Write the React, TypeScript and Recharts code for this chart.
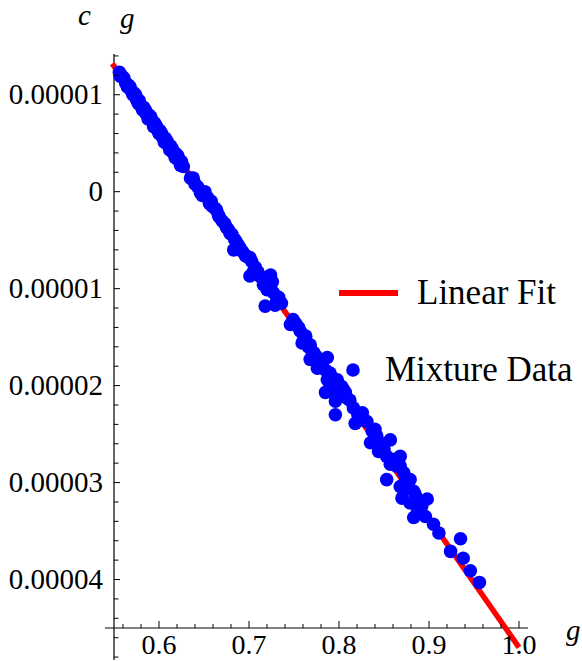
import React from "react";
import { ScatterChart, Scatter, XAxis, YAxis, ReferenceLine, Legend } from "recharts";

// mixture data: g values and c values (c in units of 1e-5)
const gValues = [
    0.556, 0.558, 0.561, 0.563, 0.566, 0.569, 0.572, 0.575, 0.578, 0.580, 0.583, 0.586, 0.589,
    0.592, 0.595, 0.598, 0.601, 0.604, 0.607, 0.610, 0.613, 0.616, 0.619, 0.622, 0.625, 0.627,
    0.557, 0.560, 0.565, 0.568, 0.571, 0.574, 0.577, 0.582, 0.585, 0.588, 0.591, 0.594, 0.597,
    0.600, 0.603, 0.606, 0.609, 0.612, 0.615, 0.618, 0.621, 0.624,
    0.635, 0.638, 0.646, 0.651, 0.658, 0.659, 0.664, 0.666, 0.667, 0.677, 0.681, 0.686, 0.688,
    0.683, 0.698, 0.701, 0.703, 0.705, 0.701, 0.721, 0.724, 0.716, 0.726, 0.720, 0.727, 0.733,
    0.718, 0.729, 0.749, 0.746, 0.757, 0.763, 0.759, 0.766, 0.768, 0.770, 0.768, 0.787, 0.779,
    0.776, 0.785, 0.790, 0.798, 0.787, 0.790, 0.785, 0.803, 0.805, 0.807, 0.798, 0.796,
    0.809, 0.796, 0.816, 0.826, 0.818, 0.831, 0.840, 0.835, 0.842, 0.857, 0.844, 0.853, 0.861,
    0.868, 0.857, 0.868, 0.872, 0.853, 0.874, 0.879, 0.868, 0.876, 0.883, 0.870, 0.879, 0.898,
    0.888, 0.887, 0.890, 0.883, 0.896, 0.905, 0.911, 0.935, 0.924, 0.938, 0.946, 0.956,
    0.640, 0.643, 0.648, 0.654, 0.656, 0.662, 0.670, 0.673, 0.675, 0.679, 0.684, 0.690, 0.693,
    0.696, 0.707, 0.710, 0.713, 0.722, 0.731, 0.736, 0.752, 0.755, 0.761, 0.772, 0.775, 0.781,
    0.793, 0.800, 0.812, 0.821, 0.828, 0.837, 0.848, 0.850, 0.864, 0.877, 0.885, 0.892
];
const cValues = [
    1.23, 1.20, 1.17, 1.12, 1.10, 1.04, 1.02, 0.95, 0.94, 0.88, 0.87, 0.80, 0.79,
    0.73, 0.71, 0.64, 0.63, 0.56, 0.55, 0.48, 0.47, 0.40, 0.39, 0.32, 0.31, 0.26,
    1.19, 1.18, 1.08, 1.08, 1.00, 1.00, 0.91, 0.84, 0.84, 0.75, 0.77, 0.67, 0.68,
    0.60, 0.60, 0.51, 0.52, 0.43, 0.44, 0.35, 0.37, 0.27,
    0.14, 0.14, -0.01, 0.00, -0.10, -0.15, -0.19, -0.24, -0.26, -0.39, -0.44, -0.52, -0.55,
    -0.60, -0.67, -0.68, -0.72, -0.82, -0.87, -0.88, -0.86, -0.96, -0.93, -1.01, -1.04, -1.09,
    -1.18, -1.17, -1.32, -1.37, -1.44, -1.49, -1.56, -1.60, -1.58, -1.70, -1.73, -1.71, -1.80,
    -1.82, -1.84, -1.87, -1.94, -1.94, -2.01, -2.07, -2.01, -2.04, -2.07, -2.11, -2.16,
    -2.13, -2.30, -2.23, -2.28, -2.39, -2.37, -2.45, -2.59, -2.52, -2.56, -2.68, -2.73, -2.76,
    -2.73, -2.81, -2.83, -2.90, -2.97, -2.97, -2.97, -3.04, -3.06, -3.09, -3.16, -3.21, -3.17,
    -3.18, -3.31, -3.30, -3.36, -3.35, -3.43, -3.52, -3.58, -3.71, -3.78, -3.91, -4.03,
    0.08, 0.05, -0.04, -0.06, -0.12, -0.17, -0.30, -0.33, -0.37, -0.43, -0.49, -0.58, -0.62,
    -0.66, -0.78, -0.83, -0.88, -0.98, -1.12, -1.15, -1.36, -1.40, -1.52, -1.66, -1.70, -1.76,
    -1.92, -2.00, -2.15, -2.30, -2.36, -2.47, -2.60, -2.66, -2.83, -3.01, -3.13, -3.24
];

// linear fit end points
const fitG = [0.548, 1.0];
const fitC = [1.32, -4.70];

const xMajorTicks = [0.6, 0.7, 0.8, 0.9, 1.0];
const xTickLabels = ["0.6", "0.7", "0.8", "0.9", "1.0"];
const xMinorTicks = [0.56, 0.58, 0.62, 0.64, 0.66, 0.68, 0.72, 0.74, 0.76, 0.78, 0.82, 0.84, 0.86, 0.88, 0.92, 0.94, 0.96, 0.98];

const yMajorTicks = [1, 0, -1, -2, -3, -4];
const yTickLabels = ["0.00001", "0", "0.00001", "0.00002", "0.00003", "0.00004"];
const yMinorTicks = [1.4, 1.2, 0.8, 0.6, 0.4, 0.2, -0.2, -0.4, -0.6, -0.8, -1.2, -1.4, -1.6, -1.8,
    -2.2, -2.4, -2.6, -2.8, -3.2, -3.4, -3.6, -3.8, -4.2, -4.4, -4.6, -4.8];

const mixture = gValues.map((g, i) => ({ g, c: cValues[i] }));
const fit = fitG.map((g, i) => ({ g, c: fitC[i] }));

const FONT = '"Liberation Serif", "Times New Roman", serif';
const X_AXIS_LIFT = 32; // x axis line sits above the plot bottom
const Y_AXIS_SHIFT = 9; // y axis line sits right of the plot left edge

const majorIndex = (list: number[], v: number) => list.findIndex(t => Math.abs(t - v) < 1e-6);

const XTick = ({ x, y, payload }: any) => {
    const i = majorIndex(xMajorTicks, payload.value);
    const ay = y - X_AXIS_LIFT;
    return (
        <g>
            <line x1={x} x2={x} y1={ay} y2={ay - (i >= 0 ? 7 : 4)} stroke="#000" strokeWidth={1} />
            {i >= 0 && (
                <text x={x} y={ay + 26} textAnchor="middle" fontFamily={FONT} fontSize={28} fill="#000">
                    {xTickLabels[i]}
                </text>
            )}
        </g>
    );
};

const YTick = ({ x, y, payload }: any) => {
    const i = majorIndex(yMajorTicks, payload.value);
    const ax = x + Y_AXIS_SHIFT;
    return (
        <g>
            <line x1={ax} x2={ax + (i >= 0 ? 6 : 4.5)} y1={y} y2={y} stroke="#000" strokeWidth={1} />
            {i >= 0 && (
                <text x={ax - 11} y={y + 9.5} textAnchor="end" fontFamily={FONT} fontSize={29} fill="#000">
                    {yTickLabels[i]}
                </text>
            )}
        </g>
    );
};

const YLabels = () => (
    <g>
        <text x={78} y={25} fontFamily={FONT} fontStyle="italic" fontSize={29} fill="#000">c</text>
        <text x={120} y={28} fontFamily={FONT} fontStyle="italic" fontSize={29} fill="#000">g</text>
    </g>
);

const XLabel = () => (
    <text x={566} y={640} fontFamily={FONT} fontStyle="italic" fontSize={29} fill="#000">g</text>
);

const Dot = ({ cx, cy }: any) => <circle cx={cx} cy={cy} r={6.8} fill="#0000ff" />;

const LegendContent = ({ payload }: any) => {
    const items = payload || [];
    return (
        <svg width={582} height={661} style={{ position: "absolute", left: 0, top: 0 }}>
            {items.map((entry: any, idx: number) => {
                const top = idx === 0 ? 293 : 370;
                return (
                    <g key={entry.value}>
                        {entry.type === "line" ? (
                            <line x1={339} x2={398} y1={top} y2={top} stroke={entry.color} strokeWidth={6} />
                        ) : (
                            <circle cx={353} cy={top} r={6.8} fill={entry.color} />
                        )}
                        <text x={idx === 0 ? 417 : 385} y={top + 11} fontFamily={FONT} fontSize={35} fill="#000">
                            {entry.value}
                        </text>
                    </g>
                );
            })}
        </svg>
    );
};

export default function App() {
    return (
        <div style={{ position: "absolute", left: 0, top: 0, width: 582, height: 661, background: "#fff" }}>
            <ScatterChart width={582} height={661} margin={{ top: 54, right: 54, bottom: 0, left: 104 }}>
                <XAxis
                    type="number"
                    dataKey="g"
                    domain={[0.54, 1.01]}
                    ticks={[...xMinorTicks, ...xMajorTicks].sort((a, b) => a - b)}
                    interval={0}
                    height={1}
                    tickSize={0}
                    tickMargin={0}
                    axisLine={false}
                    tickLine={false}
                    tick={<XTick />}
                    label={<XLabel />}
                />
                <YAxis
                    type="number"
                    dataKey="c"
                    domain={[-4.83, 1.42]}
                    ticks={[...yMinorTicks, ...yMajorTicks].sort((a, b) => a - b)}
                    interval={0}
                    width={1}
                    tickSize={0}
                    tickMargin={0}
                    axisLine={false}
                    tickLine={false}
                    tick={<YTick />}
                    label={<YLabels />}
                />
                <ReferenceLine x={0.55} stroke="#000" strokeWidth={1.2} />
                <ReferenceLine y={-4.5} stroke="#000" strokeWidth={1.2} />
                <Legend
                    layout="horizontal"
                    verticalAlign="middle"
                    align="center"
                    wrapperStyle={{ left: 0, top: 0, width: 582, height: 661, pointerEvents: "none" }}
                    content={<LegendContent />}
                />
                <Scatter
                    name="Linear Fit"
                    data={fit}
                    fill="#ff0000"
                    legendType="line"
                    line={{ stroke: "#ff0000", strokeWidth: 5.5 }}
                    shape={() => <g />}
                    isAnimationActive={false}
                />
                <Scatter
                    name="Mixture Data"
                    data={mixture}
                    fill="#0000ff"
                    legendType="circle"
                    shape={<Dot />}
                    isAnimationActive={false}
                />
            </ScatterChart>
        </div>
    );
}
